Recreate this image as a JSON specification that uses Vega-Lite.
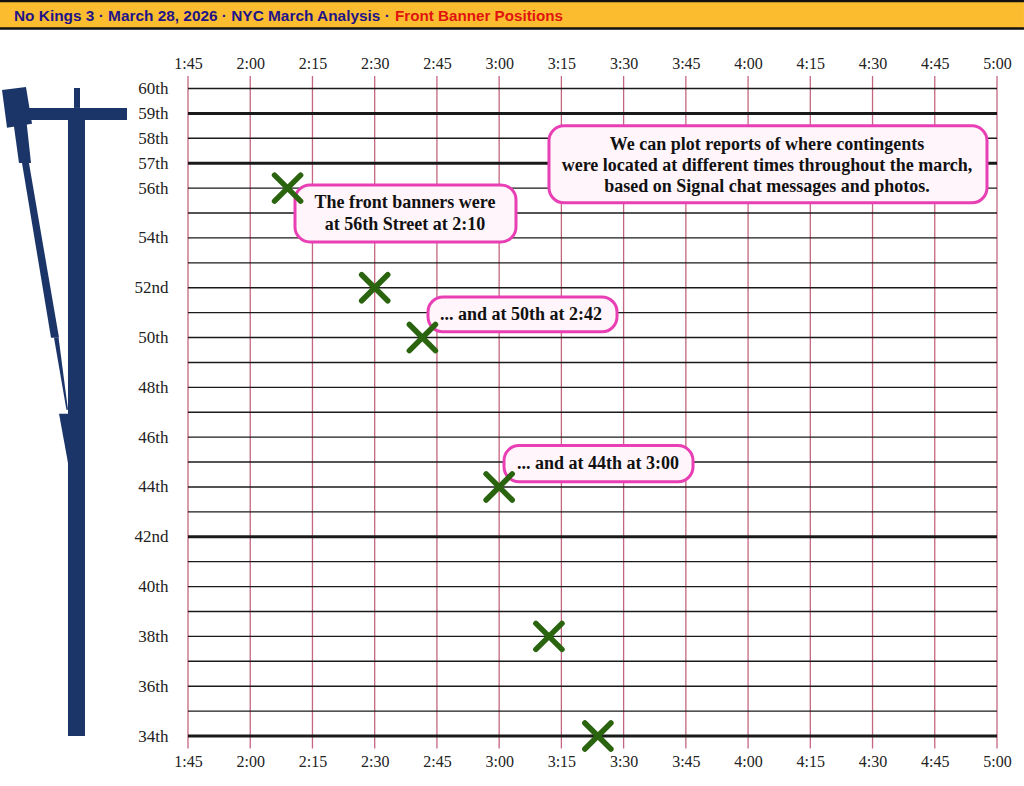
{
"$schema":"https://vega.github.io/schema/vega-lite/v6.json",
"width":1024,"height":786,"padding":0,"autosize":{"type":"none"},
"background":"white","view":{"stroke":null},
"datasets":{
"ticks":[{"minute":105},{"minute":120},{"minute":135},{"minute":150},{"minute":165},{"minute":180},{"minute":195},{"minute":210},{"minute":225},{"minute":240},{"minute":255},{"minute":270},{"minute":285},{"minute":300}],
"streets":[{"street":60},{"street":59},{"street":58},{"street":57},{"street":56},{"street":55},{"street":54},{"street":53},{"street":52},{"street":51},{"street":50},{"street":49},{"street":48},{"street":47},{"street":46},{"street":45},{"street":44},{"street":43},{"street":42},{"street":41},{"street":40},{"street":39},{"street":38},{"street":37},{"street":36},{"street":35},{"street":34}],
"reports":[{"minute":129,"street":56},{"minute":150,"street":52},{"minute":161.5,"street":50},{"minute":180,"street":44},{"minute":192,"street":38},{"minute":203.8,"street":34}],
"callouts":[
{"x1":130.79,"x2":184.06,"y1":56.13,"y2":53.84},
{"x1":162.85,"x2":208.41,"y1":51.63,"y2":50.23},
{"x1":181.17,"x2":226.73,"y1":45.66,"y2":44.21},
{"x1":192.01,"x2":297.59,"y1":58.5,"y2":55.41}],
"notes":[
{"minute":157.3,"street":55.41,"text":"The front banners were"},
{"minute":157.3,"street":54.52,"text":"at 56th Street at 2:10"},
{"minute":185.27,"street":50.91,"text":"... and at 50th at 2:42"},
{"minute":203.83,"street":44.93,"text":"... and at 44th at 3:00"},
{"minute":244.56,"street":57.73,"text":"We can plot reports of where contingents"},
{"minute":244.56,"street":56.89,"text":"were located at different times throughout the march,"},
{"minute":244.56,"street":56.05,"text":"based on Signal chat messages and photos."}],
"map":[
{"part":"avenue","a":76.07,"b":80.17,"street":59.22},{"part":"avenue","a":76.07,"b":80.17,"street":34},
{"part":"crosstown","a":65.71,"b":90.3,"street":59.22},{"part":"crosstown","a":65.71,"b":90.3,"street":58.74},
{"part":"stub","a":77.52,"b":78.97,"street":60.02},{"part":"stub","a":77.52,"b":78.97,"street":59.22},
{"part":"block","a":65.95,"b":65.95,"street":60.06},{"part":"block","a":60.17,"b":66.07,"street":59.94},{"part":"block","a":61.25,"b":67.4,"street":58.58},{"part":"block","a":61.37,"b":61.37,"street":58.42},
{"part":"s2","a":62.9,"b":66.07,"street":58.66},{"part":"s2","a":64.26,"b":67.16,"street":57.01},
{"part":"s3","a":64.99,"b":66.67,"street":57.01},{"part":"s3","a":71.98,"b":73.91,"street":49.99},
{"part":"s4","a":72.7,"b":73.81,"street":49.99},{"part":"s4","a":75.7,"b":76.07,"street":47.1},
{"part":"s5","a":73.91,"b":76.07,"street":46.94},{"part":"s5","a":76.07,"b":76.07,"street":44.97}]
},
"layer":[
{"data":{"values":[{"x1":59.68,"x2":306.5,"y1":63.51,"y2":62.39}]},
 "mark":{"type":"rect","fill":"#fbbd2f"},
 "encoding":{
  "x":{"field":"x1","type":"quantitative","axis":null,"scale":{"domain":[105,300],"range":[188,997],"nice":false,"zero":false}},"x2":{"field":"x2"},
  "y":{"field":"y1","type":"quantitative","axis":null,"scale":{"domain":[60,34],"range":[88.5,736],"nice":false,"zero":false}},"y2":{"field":"y2"}}},
{"data":{"values":[{"x1":59.68,"x2":306.5,"y":63.51},{"x1":59.68,"x2":306.5,"y":62.41}]},
 "mark":{"type":"rule","stroke":"#111111","strokeWidth":2.4},
 "encoding":{"x":{"field":"x1","type":"quantitative","axis":null},"x2":{"field":"x2"},"y":{"field":"y","type":"quantitative","axis":null}}},
{"data":{"values":[{"minute":63.06,"street":62.91,"text":"No Kings 3 · March 28, 2026 · NYC March Analysis ·"}]},
 "mark":{"type":"text","align":"left","baseline":"middle","font":"Liberation Sans","fontWeight":"bold","fontSize":15.4,"fill":"#1f1488"},
 "encoding":{"x":{"field":"minute","type":"quantitative","axis":null},"y":{"field":"street","type":"quantitative","axis":null},"text":{"field":"text"}}},
{"data":{"values":[{"minute":154.9,"street":62.91,"text":"Front Banner Positions"}]},
 "mark":{"type":"text","align":"left","baseline":"middle","font":"Liberation Sans","fontWeight":"bold","fontSize":15.2,"fill":"#e0140f"},
 "encoding":{"x":{"field":"minute","type":"quantitative","axis":null},"y":{"field":"street","type":"quantitative","axis":null},"text":{"field":"text"}}},
{"data":{"name":"map"},
 "mark":{"type":"area","orient":"horizontal","fill":"#1b3569","interpolate":"linear"},
 "encoding":{"x":{"field":"a","type":"quantitative","axis":null},"x2":{"field":"b"},"y":{"field":"street","type":"quantitative","axis":null},"detail":{"field":"part"}}},
{"data":{"name":"ticks"},
 "mark":{"type":"rule","stroke":"#c4667f","strokeWidth":1.3},
 "encoding":{
  "x":{"field":"minute","type":"quantitative","axis":{"orient":"bottom","offset":-37,"values":[105,120,135,150,165,180,195,210,225,240,255,270,285,300],"labelExpr":"floor(datum.value/60)+':'+(datum.value%60<10?'0':'')+(datum.value%60)","title":null,"ticks":false,"domain":false,"grid":false,"labelPadding":4,"labelFont":"Liberation Serif","labelFontSize":16,"labelColor":"#222222","labelFlush":false,"labelOverlap":false,"labelBound":false}},
  "y":{"datum":60,"type":"quantitative","axis":null},"y2":{"datum":33.5}}},
{"data":{"name":"ticks"},
 "mark":{"type":"rule","stroke":"#c4667f","strokeWidth":1.3},
 "encoding":{
  "x":{"field":"minute","type":"quantitative","axis":{"orient":"top","offset":-76,"values":[105,120,135,150,165,180,195,210,225,240,255,270,285,300],"labelExpr":"floor(datum.value/60)+':'+(datum.value%60<10?'0':'')+(datum.value%60)","title":null,"ticks":false,"domain":false,"grid":false,"labelPadding":5,"labelFont":"Liberation Serif","labelFontSize":16,"labelColor":"#222222","labelFlush":false,"labelOverlap":false,"labelBound":false}},
  "y":{"datum":60.5,"type":"quantitative","axis":null},"y2":{"datum":60}}},
{"data":{"name":"streets"},
 "mark":{"type":"rule","stroke":"#1a1a1a"},
 "encoding":{
  "x":{"datum":105,"type":"quantitative","axis":null},"x2":{"datum":300},
  "y":{"field":"street","type":"quantitative","axis":{"orient":"left","offset":-188,"values":[60,59,58,57,56,54,52,50,48,46,44,42,40,38,36,34],"labelExpr":"datum.value+((datum.value==52||datum.value==42)?'nd':'th')","title":null,"ticks":false,"domain":false,"grid":false,"labelPadding":20,"labelFont":"Liberation Serif","labelFontSize":17,"labelColor":"#222222","labelOverlap":false,"labelBound":false,"labelFlush":false}},
  "strokeWidth":{"condition":{"test":"indexof([59,57,42,34],datum.street)>=0","value":3},"value":1.4}}},
{"data":{"name":"callouts"},
 "mark":{"type":"rect","fill":"#fff5fb","stroke":"#e83fb4","strokeWidth":3,"cornerRadius":15},
 "encoding":{"x":{"field":"x1","type":"quantitative","axis":null},"x2":{"field":"x2"},"y":{"field":"y1","type":"quantitative","axis":null},"y2":{"field":"y2"}}},
{"data":{"name":"notes"},
 "mark":{"type":"text","align":"center","baseline":"middle","font":"Liberation Serif","fontWeight":"bold","fontSize":18,"fill":"#111111"},
 "encoding":{"x":{"field":"minute","type":"quantitative","axis":null},"y":{"field":"street","type":"quantitative","axis":null},"text":{"field":"text"}}},
{"data":{"name":"reports"},
 "mark":{"type":"point","shape":"M-1,-1L1,1M-1,1L1,-1","filled":false,"stroke":"#2a640f","strokeWidth":5.5,"strokeCap":"round","size":680,"opacity":1},
 "encoding":{"x":{"field":"minute","type":"quantitative","axis":null},"y":{"field":"street","type":"quantitative","axis":null}}}
],
"resolve":{"axis":{"x":"independent","y":"independent"}}
}
